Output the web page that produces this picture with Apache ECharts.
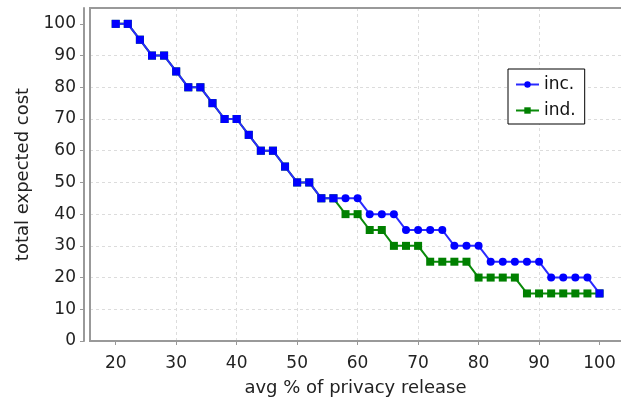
<!DOCTYPE html>
<html><head><meta charset="utf-8">
<script src="https://cdn.jsdelivr.net/npm/echarts@6/dist/echarts.min.js"></script>
<style>html,body{margin:0;padding:0;background:#fff}#c{width:621px;height:402px}</style>
</head><body><div id="c"></div>
<script>
const xValues = [20,22,24,26,28,30,32,34,36,38,40,42,44,46,48,50,52,54,56,58,60,62,64,66,68,70,72,74,76,78,80,82,84,86,88,90,92,94,96,98,100];
const incValues = [100,100,95,90,90,85,80,80,75,70,70,65,60,60,55,50,50,45,45,45,45,40,40,40,35,35,35,35,30,30,30,25,25,25,25,25,20,20,20,20,15];
const indValues = [100,100,95,90,90,85,80,80,75,70,70,65,60,60,55,50,50,45,45,40,40,35,35,30,30,30,25,25,25,25,20,20,20,20,15,15,15,15,15,15,15];
const xTicks = [20,30,40,50,60,70,80,90,100];
const yTicks = [0,10,20,30,40,50,60,70,80,90,100];
const seriesNames = ['inc.', 'ind.'];
const xTitle = 'avg % of privacy release';
const yTitle = 'total expected cost';

const FONT = 'DejaVu Sans';
const chart = echarts.init(document.getElementById('c'), null, {renderer: 'canvas'});

const incData = xValues.map((x, i) => {
  const item = {value: [x, incValues[i]]};
  if (incValues[i] === indValues[i]) item.symbol = 'rect';
  return item;
});
const indData = xValues.map((x, i) => [x, indValues[i]]);

const axisLine = {show: true, lineStyle: {color: '#999', width: 2}};
const gridLine = {show: true, showMinLine: false, showMaxLine: false, lineStyle: {color: '#dcdcdc', type: [3, 3], width: 1}};
chart.setOption({
  animation: false,
  backgroundColor: '#fff',
  textStyle: {fontFamily: FONT},
  grid: {left: 90, top: 8, right: 0, height: 333, show: false, containLabel: false},
  graphic: [{
    type: 'rect', z: 1, silent: true,
    shape: {x: 90, y: 8, width: 560, height: 333},
    style: {fill: null, stroke: '#999', lineWidth: 2}
  }],
  legend: {
    orient: 'vertical', left: 508, top: 69,
    data: seriesNames,
    backgroundColor: '#fff', borderColor: '#000', borderWidth: 1,
    padding: [7, 9, 5, 7], itemGap: 9, itemWidth: 23, itemHeight: 8,
    textStyle: {fontFamily: FONT, fontSize: 17, color: '#111'}
  },
  xAxis: {
    type: 'value', min: 15.75, max: 103.55, minInterval: 10, maxInterval: 10,
    offset: 6,
    name: xTitle, nameLocation: 'middle', nameGap: 32,
    nameTextStyle: {fontFamily: FONT, fontSize: 18, color: '#222'},
    axisLine: axisLine,
    axisTick: {show: true, length: 4, customValues: xTicks, lineStyle: {color: '#999'}},
    axisLabel: {customValues: xTicks, fontFamily: FONT, fontSize: 17, color: '#222', margin: 8},
    splitLine: gridLine
  },
  yAxis: {
    type: 'value', min: 0, max: 105, interval: 10,
    offset: 6,
    name: yTitle, nameLocation: 'middle', nameGap: 52, nameRotate: 90,
    nameTextStyle: {fontFamily: FONT, fontSize: 18, color: '#222'},
    axisLine: axisLine,
    axisTick: {show: true, length: 4, customValues: yTicks, lineStyle: {color: '#999'}},
    axisLabel: {customValues: yTicks, fontFamily: FONT, fontSize: 17, color: '#222', margin: 8},
    splitLine: gridLine
  },
  series: [
    {
      name: seriesNames[1], type: 'line', data: indData,
      symbol: 'rect', symbolSize: 8, showAllSymbol: true,
      itemStyle: {color: '#008000'},
      lineStyle: {color: '#0a8a0a', width: 2},
      z: 2
    },
    {
      name: seriesNames[0], type: 'line', data: incData,
      symbol: 'circle', symbolSize: 8, showAllSymbol: true,
      itemStyle: {color: '#0000ff'},
      lineStyle: {color: '#2a2aff', width: 2},
      z: 3
    }
  ]
});
</script>
</body></html>
